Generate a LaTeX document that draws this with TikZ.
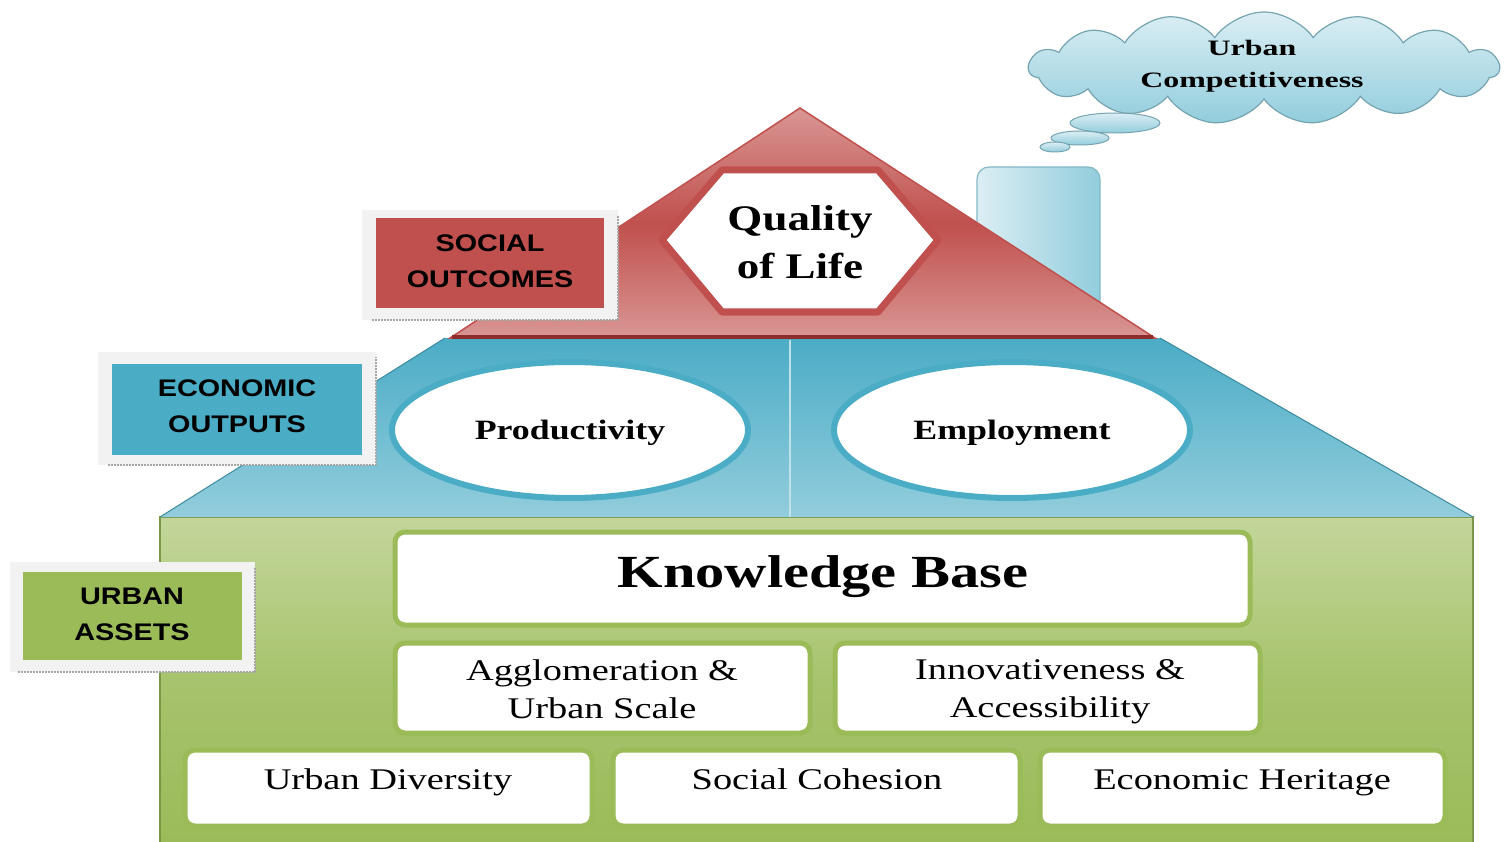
\documentclass[tikz,border=0pt]{standalone}
\usepackage{fontspec}
\setmainfont{Liberation Serif}
\newfontfamily\labfont{Liberation Sans}
\usetikzlibrary{shapes.geometric,shapes.symbols}
\definecolor{redD}{RGB}{192,80,77}
\definecolor{redL}{RGB}{217,150,148}
\definecolor{redE}{RGB}{140,45,43}
\definecolor{bluD}{RGB}{75,172,198}
\definecolor{bluL}{RGB}{146,205,220}
\definecolor{bluP}{RGB}{219,238,244}
\definecolor{grnD}{RGB}{155,187,89}
\definecolor{grnL}{RGB}{195,214,155}
\definecolor{frame}{RGB}{242,242,242}
\tikzset{
  lab/.style={font=\labfont\bfseries\fontsize{24}{36}\selectfont, align=center, text=black, xscale=1.2},
  wbox/.style={fill=white, draw=grnD, line width=5pt, rounded corners=10pt},
  ell/.style={ellipse, fill=white, draw=bluD, line width=6pt},
  frm/.style={fill=frame},
  shad/.style={draw=gray!70, line width=2pt, dash pattern=on 2pt off 1pt},
  txt/.style={font=\fontsize{30}{38}\selectfont, align=center, xscale=1.28},
  bub/.style={ellipse, draw=bluL!80!black, line width=1pt, top color=bluP, bottom color=bluL},
}
\begin{document}
\begin{tikzpicture}[x=1pt,y=-1pt]
\useasboundingbox (0,0) rectangle (1507,842);
% green base
\shade[top color=grnL, bottom color=grnD, middle color=grnD!70!grnL] (160,517) rectangle (1473,842);
\draw[grnD!80!black, line width=1.5pt] (160,842) -- (160,517) -- (1473,517) -- (1473,842);
% chimney
\shade[left color=bluP, right color=bluL, rounded corners=12pt] (977,167) rectangle (1100,330);
\draw[bluL!90!black, line width=1.2pt, rounded corners=12pt] (977,330) -- (977,167) -- (1100,167) -- (1100,330);
% blue roof
\shade[top color=bluD, bottom color=bluL] (160,517) -- (445,338) -- (1160,338) -- (1473,517) -- cycle;
\draw[bluD!80!black, line width=1pt] (160,517) -- (445,338);
\draw[bluD!80!black, line width=1pt] (1160,338) -- (1473,517);
\draw[bluL!60!white, line width=1.5pt] (790,340) -- (790,517);
% red triangle
\shade[top color=redL, bottom color=redL, middle color=redD] (800,108) -- (1155,338) -- (450,338) -- cycle;
\draw[redD, line width=1.5pt] (800,108) -- (1155,338) -- (450,338) -- cycle;
\draw[redE, line width=4pt] (452,337) -- (1153,337);
% hexagon
\draw[fill=white, draw=redD, line width=7pt, line join=round] (662,240) -- (722,170) -- (878,170) -- (938,240) -- (878,312) -- (722,312) -- cycle;
\node[font=\bfseries\fontsize{36}{48}\selectfont, align=center, xscale=1.25] (qol) at (800,242) {Quality\\of Life};
% ellipses
\node[ell, minimum width=356pt, minimum height=136pt] (prod) at (570,430) {};
\node[font=\bfseries\fontsize{28}{34}\selectfont, xscale=1.28] (prodt) at (570,433) {Productivity};
\node[ell, minimum width=356pt, minimum height=136pt] (emp) at (1012,430) {};
\node[font=\bfseries\fontsize{28}{34}\selectfont, xscale=1.28] (empt) at (1012,433) {Employment};
% white boxes
\draw[wbox] (395,532) rectangle (1250,625);
\node[font=\bfseries\fontsize{46}{54}\selectfont, xscale=1.27] (kb) at (823,577) {Knowledge Base};
\draw[wbox] (395,643) rectangle (810,733);
\node[txt] (agg) at (602,689) {Agglomeration \&\\Urban Scale};
\draw[wbox] (835,643) rectangle (1260,733);
\node[txt] (inn) at (1050,692) {Innovativeness \&\\Accessibility};
\draw[wbox] (185,750) rectangle (592,826);
\node[txt, anchor=base] (ud) at (388,789) {Urban Diversity};
\draw[wbox] (613,750) rectangle (1020,826);
\node[txt, anchor=base] (sc) at (817,789) {Social Cohesion};
\draw[wbox] (1040,750) rectangle (1445,826);
\node[txt, anchor=base] (eh) at (1242,789) {Economic Heritage};
% label boxes
\fill[frm] (362,210) rectangle (618,320);
\draw[shad] (372,320) -- (618,320) -- (618,215);
\fill[redD] (376,218) rectangle (604,308);
\node[lab] (so) at (490,261) {SOCIAL\\OUTCOMES};
\fill[frm] (98,352) rectangle (376,465);
\draw[shad] (108,465) -- (376,465) -- (376,357);
\fill[bluD] (112,364) rectangle (362,455);
\node[lab] (eo) at (237,406) {ECONOMIC\\OUTPUTS};
\fill[frm] (10,562) rectangle (255,672);
\draw[shad] (18,672) -- (255,672) -- (255,567);
\fill[grnD] (23,572) rectangle (242,660);
\node[lab] (ua) at (132,614) {URBAN\\ASSETS};
% cloud
\node[cloud, cloud puffs=15, cloud puff arc=110, aspect=4.2, minimum width=470pt, minimum height=112pt, draw=bluL!80!black, line width=1.2pt, top color=bluP, bottom color=bluL] (cl) at (1264,68) {};
\node[font=\bfseries\fontsize{22}{32}\selectfont, align=center, xscale=1.45] (clt) at (1252,66) {Urban\\Competitiveness};
\node[bub, minimum width=90pt, minimum height=20pt] (b1) at (1115,123) {};
\node[bub, minimum width=58pt, minimum height=14pt] (b2) at (1080,138) {};
\node[bub, minimum width=30pt, minimum height=10pt] (b3) at (1055,147) {};
\end{tikzpicture}
\end{document}
